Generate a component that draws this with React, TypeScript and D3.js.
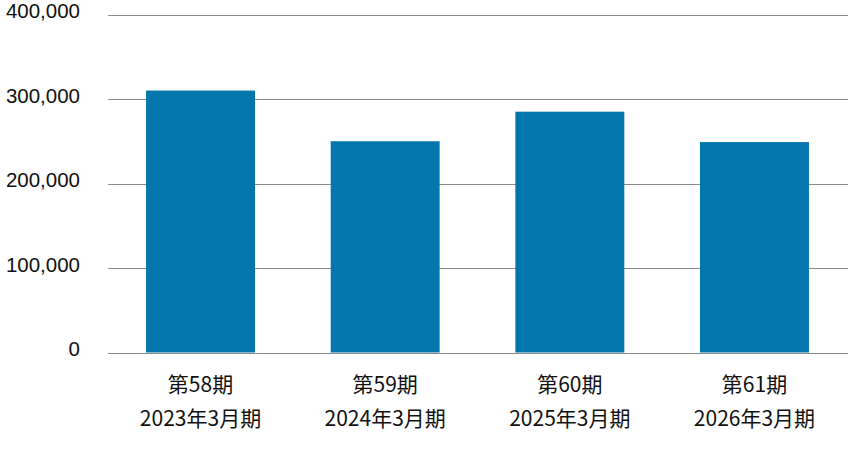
import { useEffect, useRef } from "react";
import * as d3 from "d3";

const periods = ["第58期", "第59期", "第60期", "第61期"];
const fiscalYears = ["2023年3月期", "2024年3月期", "2025年3月期", "2026年3月期"];
const values = [310000, 250000, 285000, 249000];
const yTicks = [0, 100000, 200000, 300000, 400000];

export default function App() {
  const ref = useRef<SVGSVGElement>(null);

  useEffect(() => {
    const width = 848;
    const height = 451;
    const margin = { top: 14.5, right: 1, bottom: 98.5, left: 108 };

    const svg = d3.select(ref.current).attr("width", width).attr("height", height);
    svg.selectAll("*").remove();

    const x = d3
      .scaleBand()
      .domain(periods)
      .range([margin.left, width - margin.right])
      .paddingInner(0.41)
      .paddingOuter(0.206);

    const y = d3
      .scaleLinear()
      .domain([0, 400000])
      .range([height - margin.bottom, margin.top]);

    const font = "'Noto Sans CJK JP', 'Noto Sans', sans-serif";

    // grid lines
    svg
      .selectAll("line.grid")
      .data(yTicks)
      .enter()
      .append("line")
      .attr("x1", margin.left)
      .attr("x2", width)
      .attr("y1", (d) => Math.round(y(d)) + 0.5)
      .attr("y2", (d) => Math.round(y(d)) + 0.5)
      .attr("stroke", "#8a8a8a")
      .attr("stroke-width", 1);

    // y labels
    svg
      .selectAll("text.ylab")
      .data(yTicks)
      .enter()
      .append("text")
      .attr("x", 80)
      .attr("y", (d) => y(d) - 1.5)
      .attr("text-anchor", "end")
      .attr("dominant-baseline", "middle")
      .style("font-family", "'Liberation Sans', Arial, sans-serif")
      .style("font-size", "20.5px")
      .style("fill", "#111")
      .text((d) => d3.format(",")(d));

    // bars
    svg
      .selectAll("rect")
      .data(values)
      .enter()
      .append("rect")
      .attr("x", (_, i) => x(periods[i])!)
      .attr("width", x.bandwidth())
      .attr("y", (d) => y(d))
      .attr("height", (d) => y(0) - y(d))
      .attr("fill", "#0276ad");

    // x labels
    const g = svg
      .selectAll("g.xlab")
      .data(periods)
      .enter()
      .append("g")
      .attr("transform", (d) => `translate(${x(d)! + x.bandwidth() / 2},0)`);

    g.append("text")
      .attr("y", 386)
      .attr("text-anchor", "middle")
      .attr("dominant-baseline", "middle")
      .style("font-family", font)
      .style("font-size", "21px")
      .style("fill", "#111")
      .text((d) => d);

    g.append("text")
      .attr("y", 420)
      .attr("text-anchor", "middle")
      .attr("dominant-baseline", "middle")
      .style("font-family", font)
      .style("font-size", "21px")
      .style("fill", "#111")
      .text((_, i) => fiscalYears[i]);
  }, []);

  return (
    <svg
      ref={ref}
      style={{ position: "absolute", left: 0, top: 0, display: "block" }}
    ></svg>
  );
}
